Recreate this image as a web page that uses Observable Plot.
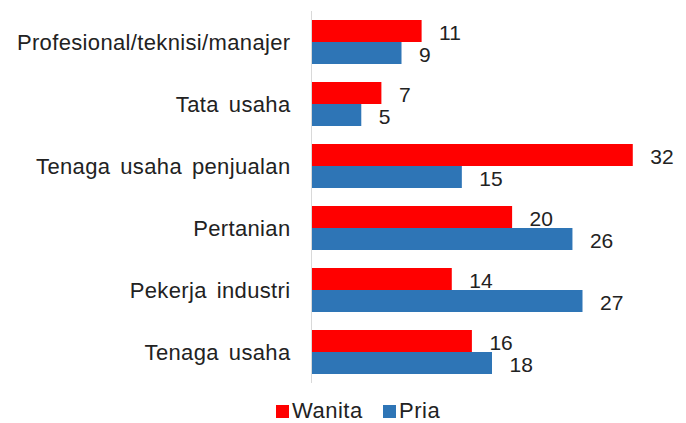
<!DOCTYPE html>
<html>
<head>
<meta charset="utf-8">
<script src="https://cdn.jsdelivr.net/npm/d3@7"></script>
<script src="https://cdn.jsdelivr.net/npm/@observablehq/plot@0.6"></script>
<style>
  html, body { margin: 0; padding: 0; background: #fff; }
  body { width: 686px; height: 423px; overflow: hidden; font-family: "Liberation Sans", Arial, sans-serif; }
  #legend { position: relative; height: 31px; }
  .item { position: absolute; top: 8px; display: flex; align-items: center; font-size: 22px; color: #222; line-height: 1; letter-spacing: 0.5px; }
  .sw { width: 13px; height: 13px; margin-right: 3px; }
  svg [aria-label^="fy-axis"] text { letter-spacing: 0.35px; word-spacing: 3.5px; }
</style>
</head>
<body>
<div id="chart"></div>
<div id="legend"></div>
<script>
const categories = ["Profesional/teknisi/manajer", "Tata usaha", "Tenaga usaha penjualan", "Pertanian", "Pekerja industri", "Tenaga usaha"];
const series = ["Wanita", "Pria"];
const wanita = [11, 7, 32, 20, 14, 16];
const pria = [9, 5, 15, 26, 27, 18];
const colors = ["#FF0000", "#2E75B6"];

const rows = [];
categories.forEach((c, i) => {
  rows.push({category: c, series: "Wanita", value: wanita[i]});
  rows.push({category: c, series: "Pria", value: pria[i]});
});

const chart = Plot.plot({
  width: 686,
  height: 392,
  marginLeft: 311,
  marginRight: 13,
  marginTop: 10,
  marginBottom: 9,
  style: {fontFamily: "'Liberation Sans', Arial, sans-serif", color: "#222", background: "#fff"},
  x: {domain: [0, 36], axis: null},
  y: {domain: series, axis: null, paddingInner: 0, paddingOuter: 0.389},
  fy: {domain: categories, padding: 0, axis: null, label: null},
  color: {domain: series, range: colors},
  marks: [
    Plot.barX(rows, {x: "value", y: "series", fy: "category", fill: "series"}),
    Plot.ruleX([0], {stroke: "#d9d9d9", strokeWidth: 1}),
    Plot.text(rows, {x: "value", y: "series", fy: "category", text: d => String(d.value), dx: 17, dy: 2, textAnchor: "start", fontSize: 21, fill: "#222"}),
    Plot.axisFy({anchor: "left", tickSize: 0, tickPadding: 21, fontSize: 22, label: null, color: "#222"})
  ]
});
document.getElementById("chart").appendChild(chart);

const legend = document.getElementById("legend");
const lefts = [276, 383];
series.forEach((s, i) => {
  const item = document.createElement("div");
  item.className = "item";
  item.style.left = lefts[i] + "px";
  const sw = document.createElement("div");
  sw.className = "sw";
  sw.style.background = colors[i];
  item.appendChild(sw);
  const t = document.createElement("span");
  t.textContent = s;
  item.appendChild(t);
  legend.appendChild(item);
});
</script>
</body>
</html>
